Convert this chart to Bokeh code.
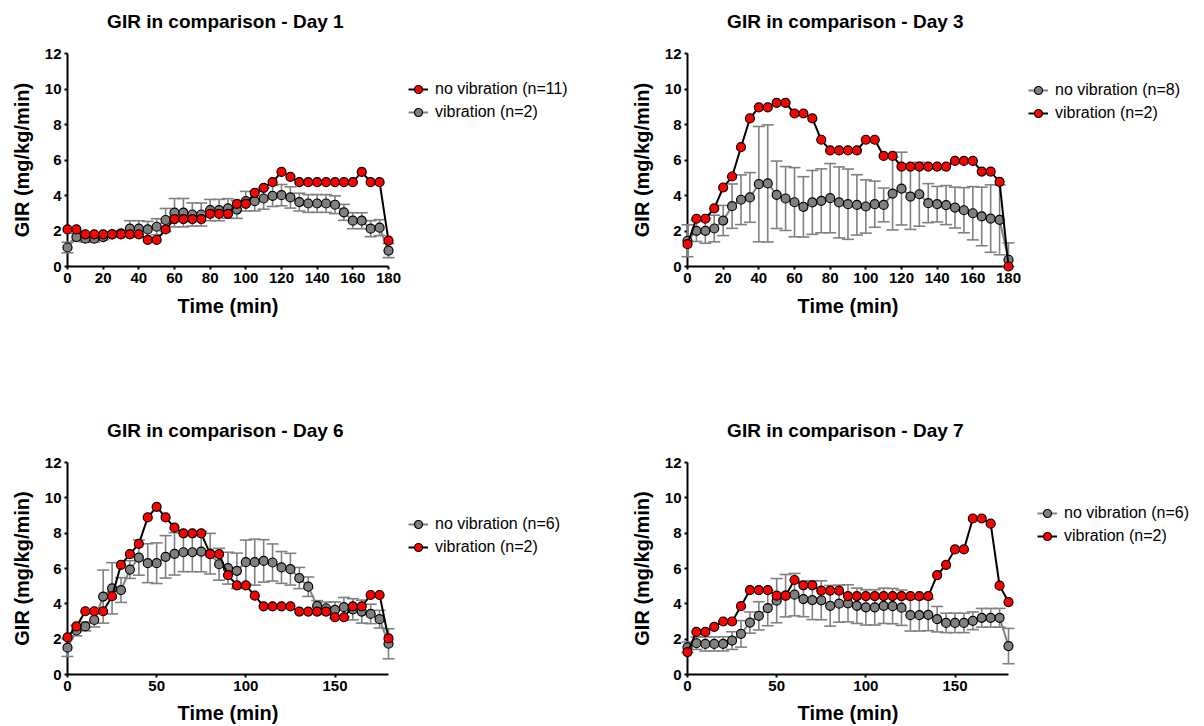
from bokeh.plotting import figure
from bokeh.layouts import column, row
from bokeh.models import (ColumnDataSource, Legend, LegendItem, FixedTicker, Range1d, Label)
from bokeh.embed import file_html
from bokeh.resources import INLINE

# ---------------- data ----------------
TIME = [0, 5, 10, 15, 20, 25, 30, 35, 40, 45, 50, 55, 60, 65, 70, 75, 80, 85, 90,
        95, 100, 105, 110, 115, 120, 125, 130, 135, 140, 145, 150, 155, 160, 165,
        170, 175, 180]

# Day 1
day1_red = [2.09, 2.09, 1.81, 1.81, 1.81, 1.81, 1.81, 1.81, 1.81, 1.50, 1.50, 2.09,
            2.67, 2.67, 2.67, 2.67, 2.97, 2.97, 2.97, 3.53, 3.53, 4.15, 4.43, 4.75,
            5.33, 5.05, 4.75, 4.75, 4.75, 4.75, 4.75, 4.75, 4.75, 5.33, 4.75, 4.75, 1.46]
day1_gray = [1.07, 1.66, 1.57, 1.57, 1.66, 1.81, 1.87, 2.13, 2.13, 2.09, 2.24, 2.62,
             3.03, 3.03, 2.93, 2.93, 3.18, 3.18, 3.27, 3.21, 3.68, 3.68, 3.83, 3.98,
             4.02, 3.89, 3.63, 3.55, 3.55, 3.55, 3.48, 3.05, 2.58, 2.58, 2.13, 2.19, 0.90]
day1_gray_sem = [0.30, 0.20, 0.20, 0.20, 0.15, 0.15, 0.15, 0.45, 0.45, 0.45, 0.45, 0.65,
                 0.80, 0.80, 0.65, 0.65, 0.60, 0.60, 0.55, 0.50, 0.55, 0.55, 0.60, 0.60,
                 0.60, 0.60, 0.50, 0.50, 0.50, 0.50, 0.50, 0.45, 0.45, 0.45, 0.45, 0.45, 0.40]

# Day 3
day3_gray = [1.45, 2.01, 2.01, 2.14, 2.59, 3.40, 3.76, 3.89, 4.64, 4.68, 4.04, 3.83,
             3.62, 3.36, 3.61, 3.70, 3.85, 3.61, 3.51, 3.47, 3.38, 3.51, 3.47, 4.11,
             4.39, 3.94, 4.07, 3.57, 3.51, 3.46, 3.32, 3.17, 3.00, 2.82, 2.70, 2.63, 0.38]
day3_gray_sem = [0.90, 0.60, 0.70, 0.75, 0.85, 1.25, 1.40, 1.40, 3.25, 3.30, 1.90, 1.80,
                 1.95, 1.70, 1.80, 1.80, 1.95, 2.00, 1.98, 1.70, 1.50, 1.30, 0.95, 2.05,
                 2.05, 1.85, 1.80, 1.10, 1.00, 1.10, 1.15, 1.27, 1.50, 1.65, 1.90, 1.97, 0.95]
day3_red = [1.26, 2.69, 2.69, 3.27, 4.45, 5.07, 6.72, 8.34, 8.96, 8.96, 9.22, 9.22,
            8.62, 8.62, 8.34, 7.14, 6.54, 6.54, 6.54, 6.54, 7.14, 7.14, 6.23, 6.23,
            5.63, 5.63, 5.63, 5.63, 5.63, 5.63, 5.95, 5.95, 5.95, 5.35, 5.35, 4.77, 0.00]

# Day 6
day6_gray = [1.52, 2.49, 2.72, 3.09, 4.41, 4.88, 4.78, 5.94, 6.62, 6.30, 6.30, 6.66,
             6.83, 6.92, 6.92, 6.96, 6.84, 6.24, 6.02, 5.87, 6.36, 6.36, 6.43, 6.34,
             6.06, 5.96, 5.46, 4.97, 3.88, 3.75, 3.66, 3.81, 3.69, 3.56, 3.43, 3.13, 1.74]
day6_gray_sem = [0.50, 0.30, 0.25, 0.40, 1.50, 1.45, 0.70, 0.50, 1.00, 1.10, 1.15, 1.20,
                 1.20, 1.10, 1.10, 1.15, 1.15, 0.90, 0.90, 1.00, 1.25, 1.30, 1.20, 1.05,
                 0.90, 0.90, 0.60, 0.55, 0.30, 0.35, 0.45, 0.55, 0.60, 0.65, 0.55, 0.50, 0.85]
day6_red = [2.10, 2.72, 3.58, 3.58, 3.58, 4.43, 6.21, 6.81, 7.39, 8.89, 9.49, 8.89,
            8.31, 7.99, 7.99, 7.99, 6.81, 6.81, 5.63, 5.04, 5.04, 4.46, 3.86, 3.86,
            3.86, 3.86, 3.56, 3.56, 3.56, 3.56, 3.24, 3.24, 3.86, 3.86, 4.50, 4.50, 2.04]

# Day 7
day7_gray = [1.54, 1.77, 1.73, 1.73, 1.73, 1.92, 2.30, 2.94, 3.32, 3.76, 4.18, 4.46,
             4.52, 4.27, 4.21, 4.20, 3.89, 4.01, 4.03, 3.89, 3.80, 3.80, 3.89, 3.87,
             3.78, 3.36, 3.36, 3.38, 3.13, 2.92, 2.92, 2.92, 3.04, 3.21, 3.21, 3.21, 1.61]
day7_gray_sem = [0.30, 0.35, 0.40, 0.40, 0.40, 0.50, 0.75, 0.60, 0.80, 1.00, 1.25, 1.20,
                 1.20, 1.00, 1.10, 1.10, 1.15, 1.05, 1.05, 1.00, 1.00, 1.00, 1.00, 1.00,
                 1.00, 0.90, 0.90, 0.90, 0.72, 0.55, 0.55, 0.55, 0.50, 0.53, 0.53, 0.53, 1.00]
day7_red = [1.27, 2.41, 2.41, 2.70, 3.00, 3.00, 3.87, 4.78, 4.78, 4.78, 4.46, 4.46,
            5.35, 5.05, 5.05, 4.75, 4.75, 4.75, 4.44, 4.44, 4.44, 4.44, 4.44, 4.44,
            4.44, 4.44, 4.44, 4.44, 5.62, 6.21, 7.08, 7.08, 8.83, 8.83, 8.54, 5.03, 4.10]

TICKS_20 = [0, 20, 40, 60, 80, 100, 120, 140, 160, 180]
TICKS_50 = [0, 50, 100, 150]
Y_TICKS = [0, 2, 4, 6, 8, 10, 12]

TITLES = ["GIR in comparison -  Day 1", "GIR in comparison -  Day 3",
          "GIR in comparison -  Day 6", "GIR in comparison -  Day 7"]
LABELS_1 = ["no vibration (n=11)", "vibration (n=2)"]
LABELS_3 = ["no vibration (n=8)", "vibration (n=2)"]
LABELS_6 = ["no vibration (n=6)", "vibration (n=2)"]
LABELS_7 = ["no vibration (n=6)", "vibration (n=2)"]

FONT = "Liberation Sans"
RED = "#ff0000"
GRAY = "#808080"
FRAME_W = 321
B_LEFT = 67
LVL = "overlay"   # draw marks above the frame clip so edge points stay whole


def make_source(gray, gray_sem, red):
    return ColumnDataSource(dict(
        t=TIME, g=gray,
        up=[m + e for m, e in zip(gray, gray_sem)],
        lo=[max(0.0, m - e) for m, e in zip(gray, gray_sem)],
        r=red))


def blank(w, h, xr=(0, 1)):
    q = figure(width=w, height=h, output_backend="svg", toolbar_location=None,
               x_range=Range1d(*xr), y_range=Range1d(*xr),
               x_axis_type=None, y_axis_type=None, min_border=0)
    q.outline_line_color = None
    q.grid.visible = False
    return q


def make_header(title, w, h, y_from_top):
    q = blank(w, h)
    q.add_layout(Label(x=B_LEFT + FRAME_W / 2, y=h - y_from_top,
                       x_units="screen", y_units="screen", text=title,
                       text_align="center", text_baseline="alphabetic",
                       text_font=FONT, text_font_size="19px",
                       text_font_style="bold", text_color="black"))
    return q


def make_panel(ticks, src, h, b_top, b_bottom, xlab_standoff):
    w = B_LEFT + FRAME_W + 20
    p = figure(width=w, height=h, output_backend="svg", toolbar_location=None,
               x_range=Range1d(0, 180), y_range=Range1d(0, 12),
               min_border_left=B_LEFT, min_border_right=20,
               min_border_top=b_top, min_border_bottom=b_bottom)
    p.outline_line_color = None
    p.grid.visible = False
    p.background_fill_color = "white"
    p.border_fill_color = "white"

    p.xaxis.ticker = FixedTicker(ticks=ticks)
    p.yaxis.ticker = FixedTicker(ticks=Y_TICKS)
    p.xaxis.axis_label = "Time (min)"
    p.yaxis.axis_label = "GIR (mg/kg/min)"
    for ax in (p.xaxis, p.yaxis):
        ax.axis_line_width = 2
        ax.axis_line_color = "black"
        ax.major_tick_line_width = 2
        ax.major_tick_line_color = "black"
        ax.major_tick_out = 3
        ax.major_tick_in = 0
        ax.minor_tick_line_color = None
        ax.major_label_text_font = FONT
        ax.major_label_text_font_size = "15px"
        ax.major_label_text_font_style = "bold"
        ax.major_label_text_color = "black"
        ax.axis_label_text_font = FONT
        ax.axis_label_text_font_size = "20px"
        ax.axis_label_text_font_style = "bold"
        ax.axis_label_text_color = "black"
    p.xaxis.major_label_standoff = 3
    p.xaxis.axis_label_standoff = xlab_standoff
    p.yaxis.major_label_standoff = 3
    p.yaxis.axis_label_standoff = 9

    # error bars (SEM) of the gray series
    p.segment(x0="t", y0="lo", x1="t", y1="up", source=src, line_color=GRAY,
              line_width=1.6, level=LVL)
    p.scatter("t", "up", source=src, marker="dash", size=12, line_color=GRAY,
              line_width=1.6, level=LVL)
    p.scatter("t", "lo", source=src, marker="dash", size=12, line_color=GRAY,
              line_width=1.6, level=LVL)

    p.line("t", "g", source=src, line_color=GRAY, line_width=2, level=LVL)
    p.scatter("t", "g", source=src, size=9, fill_color=GRAY,
              line_color="black", line_width=1.2, level=LVL)
    p.line("t", "r", source=src, line_color="black", line_width=2, level=LVL)
    p.scatter("t", "r", source=src, size=9, fill_color=RED,
              line_color="black", line_width=1.2, level=LVL)
    return p


def make_legend(src, gray_label, red_label, red_first, w, h, loc):
    """Borderless canvas beside the plot that holds its legend.
    Its renderers share the plot's data but lie outside this canvas' view."""
    q = blank(w, h, xr=(1000, 1001))
    gl = q.line("t", "g", source=src, line_color=GRAY, line_width=2)
    gs = q.scatter("t", "g", source=src, size=9, fill_color=GRAY,
                   line_color="black", line_width=1.2)
    rl = q.line("t", "r", source=src, line_color="black", line_width=2)
    rs = q.scatter("t", "r", source=src, size=9, fill_color=RED,
                   line_color="black", line_width=1.2)
    it_g = LegendItem(label=gray_label, renderers=[gl, gs])
    it_r = LegendItem(label=red_label, renderers=[rl, rs])
    items = [it_r, it_g] if red_first else [it_g, it_r]
    leg = Legend(items=items, location=loc, glyph_width=20, glyph_height=20,
                 spacing=3, padding=0, margin=0, label_standoff=7,
                 label_text_font=FONT, label_text_font_size="16px",
                 label_text_color="black", label_height=20,
                 border_line_color=None, background_fill_alpha=0)
    q.add_layout(leg)
    return q


HEAD1_H, TOP_H = 40, 355
HEAD2_H, BOT_H = 50, 281

s1 = make_source(day1_gray, day1_gray_sem, day1_red)
s3 = make_source(day3_gray, day3_gray_sem, day3_red)
s6 = make_source(day6_gray, day6_gray_sem, day6_red)
s7 = make_source(day7_gray, day7_gray_sem, day7_red)

h1 = make_header(TITLES[0], 620, HEAD1_H, 21)
h2 = make_header(TITLES[1], 584, HEAD1_H, 21)
p1 = make_panel(TICKS_20, s1, TOP_H, 13, 129, 9)
l1 = make_legend(s1, LABELS_1[1], LABELS_1[0], True, 212, TOP_H, (0, 144))
p2 = make_panel(TICKS_20, s3, TOP_H, 13, 129, 9)
l2 = make_legend(s3, LABELS_3[0], LABELS_3[1], False, 176, TOP_H, (0, 143))

h3 = make_header(TITLES[2], 620, HEAD2_H, 35)
h4 = make_header(TITLES[3], 584, HEAD2_H, 35)
p3 = make_panel(TICKS_50, s6, BOT_H, 17, 52, 8)
l3 = make_legend(s6, LABELS_6[0], LABELS_6[1], False, 212, BOT_H, (0, 117))
p4 = make_panel(TICKS_50, s7, BOT_H, 17, 52, 8)
l4 = make_legend(s7, LABELS_7[0], LABELS_7[1], False, 176, BOT_H, (9, 128))

layout = column(row(h1, h2), row(p1, l1, p2, l2),
                row(h3, h4), row(p3, l3, p4, l4))

open("out.html", "w").write(file_html(layout, INLINE))
